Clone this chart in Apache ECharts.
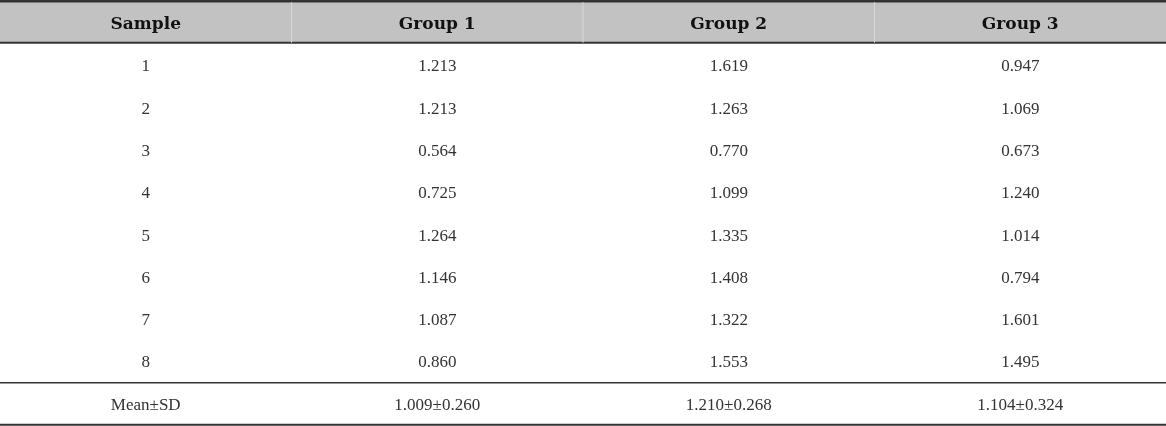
<!DOCTYPE html><html><head><meta charset="utf-8"><script src="https://cdn.jsdelivr.net/npm/echarts@6/dist/echarts.min.js"></script>
<style>html,body{margin:0;padding:0;background:#fff}#c{width:1166px;height:426px}</style></head><body><div id="c"></div><script>
const headers = ['Sample','Group 1','Group 2','Group 3'];
const samples = ['1','2','3','4','5','6','7','8'];
const group1 = ['1.213','1.213','0.564','0.725','1.264','1.146','1.087','0.860'];
const group2 = ['1.619','1.263','0.770','1.099','1.335','1.408','1.322','1.553'];
const group3 = ['0.947','1.069','0.673','1.240','1.014','0.794','1.601','1.495'];
const meanRow = ['Mean±SD','1.009±0.260','1.210±0.268','1.104±0.324'];

const cells = [];
headers.forEach((h,c)=>cells.push([c,0,h,1]));
samples.forEach((s,r)=>{[s,group1[r],group2[r],group3[r]].forEach((v,c)=>cells.push([c,r+1,v,0]));});
meanRow.forEach((v,c)=>cells.push([c,9,v,0]));

const chart = echarts.init(document.getElementById('c'));
chart.setOption({
  animation:false,
  grid:{left:0,right:0,top:0,bottom:0},
  xAxis:{type:'value',min:0,max:4,show:false},
  yAxis:{type:'value',min:-0.58,max:9.49,inverse:true,show:false},
  series:[{
    type:'custom',
    coordinateSystem:'cartesian2d',
    data:cells,
    renderItem:function(params,api){
      const c=api.value(0), r=api.value(1), hdr=api.value(3);
      const p=api.coord([c+0.5,r]);
      const children=[];
      if(params.dataIndex===0){
        const a=api.coord([0,-0.55]), b=api.coord([4,0.43]);
        children.push({type:'rect',shape:{x:0,y:a[1],width:b[0],height:b[1]-a[1]},style:{fill:'#c2c2c2'}});
        const lines=[[-0.55,2.5],[0.43,2],[8.47,1.5],[9.46,2]];
        lines.forEach(l=>{const y=api.coord([0,l[0]])[1];children.push({type:'line',shape:{x1:0,y1:y,x2:b[0],y2:y},style:{stroke:'#333',lineWidth:l[1]}});});
        [1,2,3].forEach(k=>{const x=api.coord([k,0])[0];children.push({type:'line',shape:{x1:x,y1:a[1]+1,x2:x,y2:b[1]},style:{stroke:'#d8d8d8',lineWidth:1}});});
      }
      children.push({type:'text',x:p[0],y:p[1],style:{text:api.value(2),x:0,y:0,textAlign:'center',textVerticalAlign:'middle',
        font:(hdr?'bold 17px "DejaVu Serif"':'17px "Liberation Serif"'),fill:hdr?'#111':'#333'}});
      return {type:'group',children:children};
    }
  }]
});
</script></body></html>
